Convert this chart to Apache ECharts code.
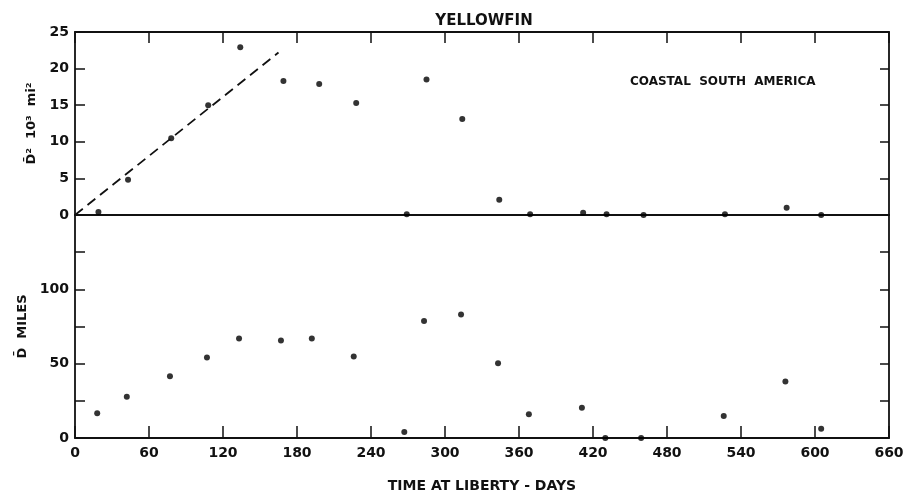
<!DOCTYPE html>
<html>
<head>
<meta charset="utf-8">
<script src="https://cdn.jsdelivr.net/npm/echarts@6/dist/echarts.min.js"></script>
<style>
html,body{margin:0;padding:0;background:#fff;}
#c{width:909px;height:499px;}
</style>
</head>
<body>
<div id="c"></div>
<script>
// Upper panel: mean squared displacement (10^3 sq. miles)
const topDays = [19, 43, 78, 108, 134, 169, 198, 228, 269, 285, 314, 344, 369, 412, 431, 461, 527, 577, 605];
const topD2   = [0.4, 4.8, 10.5, 15.0, 22.9, 18.3, 17.9, 15.3, 0.1, 18.5, 13.1, 2.1, 0.1, 0.3, 0.1, 0.0, 0.1, 1.0, 0.0];
// Dashed reference line
const dashDays = [0, 165];
const dashD2   = [0, 22.2];
// Lower panel: mean displacement (miles)
const botDays = [18, 42, 77, 107, 133, 167, 192, 226, 267, 283, 313, 343, 368, 411, 430, 459, 526, 576, 605];
const botD    = [16.6, 27.7, 41.6, 54.2, 66.9, 65.6, 66.9, 54.8, 4.0, 78.7, 83.0, 50.3, 15.9, 20.3, 0, 0, 14.8, 38.0, 6.2];
// Axis ticks
const xTicks = [0, 60, 120, 180, 240, 300, 360, 420, 480, 540, 600, 660];
const topYTicks = [0, 5, 10, 15, 20, 25];
const botYLabels = [0, 50, 100];

const FONT = 'DejaVu Sans';
const INK = '#111111';
const pair = (xs, ys) => xs.map((x, i) => [x, ys[i]]);

const chart = echarts.init(document.getElementById('c'), null, {renderer: 'canvas'});
const line = {show: true, onZero: false, lineStyle: {color: INK, width: 1.8}};
const tickIn = (len) => ({show: true, inside: true, length: len, lineStyle: {color: INK, width: 1.5}});
const lbl = {color: INK, fontFamily: FONT, fontSize: 14, fontWeight: 'bold'};

chart.setOption({
  animation: false,
  backgroundColor: '#fff',
  title: {
    text: 'YELLOWFIN', left: 479, top: 9, textAlign: 'center',
    textStyle: {fontFamily: FONT, fontSize: 15, fontWeight: 'bold', color: INK}
  },
  graphic: [{
    type: 'text', left: 630, top: 76,
    style: {text: 'COASTAL  SOUTH  AMERICA', font: 'bold 12px "DejaVu Sans"', fill: INK}
  }],
  grid: [
    {left: 75, right: 20, top: 32, height: 183},
    {left: 75, right: 20, top: 215, height: 223}
  ],
  xAxis: [
    {gridIndex: 0, type: 'value', min: 0, max: 660, interval: 60, position: 'bottom',
     axisLine: line, axisTick: {show: false}, axisLabel: {show: false}, splitLine: {show: false}},
    {gridIndex: 0, type: 'value', min: 0, max: 660, interval: 60, position: 'top',
     axisLine: line, axisTick: tickIn(11), axisLabel: {show: false}, splitLine: {show: false}},
    {gridIndex: 1, type: 'value', min: 0, max: 660, interval: 60, position: 'bottom',
     axisLine: line, axisTick: tickIn(12),
     axisLabel: Object.assign({margin: 8, formatter: v => xTicks.includes(v) ? String(v) : ''}, lbl),
     splitLine: {show: false},
     name: 'TIME AT LIBERTY - DAYS', nameLocation: 'middle', nameGap: 41,
     nameTextStyle: {fontFamily: FONT, fontSize: 14, fontWeight: 'bold', color: INK}}
  ],
  yAxis: [
    {gridIndex: 0, type: 'value', min: 0, max: 25, interval: 5, position: 'left',
     axisLine: line, axisTick: tickIn(10),
     axisLabel: Object.assign({margin: 6, formatter: v => topYTicks.includes(v) ? String(v) : ''}, lbl),
     splitLine: {show: false},
     name: 'D\u0304\u00B2  10\u00B3  mi\u00B2', nameLocation: 'middle', nameGap: 37, nameRotate: 90,
     nameTextStyle: {fontFamily: FONT, fontSize: 13, fontWeight: 'bold', color: INK}},
    {gridIndex: 0, type: 'value', min: 0, max: 25, interval: 5, position: 'right',
     axisLine: line, axisTick: tickIn(9), axisLabel: {show: false}, splitLine: {show: false}},
    {gridIndex: 1, type: 'value', min: 0, max: 150, interval: 25, position: 'left',
     axisLine: line, axisTick: tickIn(10),
     axisLabel: Object.assign({margin: 6, formatter: v => botYLabels.includes(v) ? String(v) : ''}, lbl),
     splitLine: {show: false},
     name: 'D\u0304  MILES', nameLocation: 'middle', nameGap: 38, nameRotate: 90,
     nameTextStyle: {fontFamily: FONT, fontSize: 13, fontWeight: 'bold', color: INK}},
    {gridIndex: 1, type: 'value', min: 0, max: 150, interval: 25, position: 'right',
     axisLine: line, axisTick: tickIn(9), axisLabel: {show: false}, splitLine: {show: false}}
  ],
  series: [
    {type: 'line', xAxisIndex: 0, yAxisIndex: 0, data: pair(dashDays, dashD2), symbol: 'none',
     lineStyle: {color: INK, width: 1.8, type: [10, 6]}},
    {type: 'scatter', xAxisIndex: 0, yAxisIndex: 0, data: pair(topDays, topD2), symbolSize: 6,
     itemStyle: {color: '#000'}},
    {type: 'scatter', xAxisIndex: 2, yAxisIndex: 2, data: pair(botDays, botD), symbolSize: 6,
     itemStyle: {color: '#000'}}
  ]
});
</script>
</body>
</html>
